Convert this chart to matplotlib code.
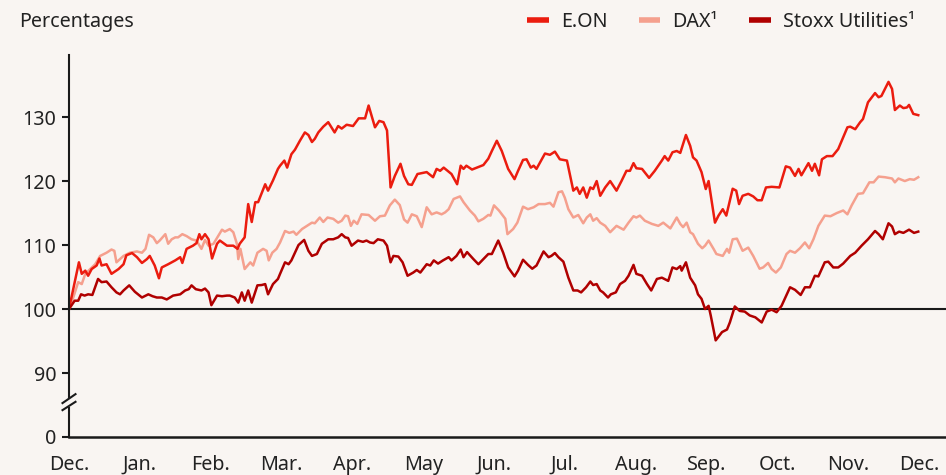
import matplotlib
matplotlib.use("Agg")
import matplotlib.pyplot as plt
from matplotlib.lines import Line2D
from matplotlib.transforms import blended_transform_factory

# x = months since start (0 = Dec. of previous year), values = index (start = 100)
eon_x = [0.00, 0.14, 0.18, 0.23, 0.27, 0.32, 0.39, 0.43, 0.46, 0.53, 0.60, 0.70, 0.77, 0.81, 0.89, 0.96,
         1.03, 1.10, 1.14, 1.21, 1.27, 1.31, 1.40, 1.50, 1.57, 1.60, 1.66, 1.75, 1.80, 1.84, 1.87, 1.92,
         1.97, 2.02, 2.09, 2.13, 2.23, 2.32, 2.38, 2.41, 2.48, 2.53, 2.58, 2.63, 2.67, 2.77, 2.81, 2.88,
         2.95, 2.98, 3.04, 3.08, 3.14, 3.19, 3.26, 3.33, 3.38, 3.43, 3.47, 3.52, 3.59, 3.66, 3.75, 3.80,
         3.85, 3.92, 4.01, 4.09, 4.18, 4.23, 4.32, 4.38, 4.44, 4.49, 4.54, 4.60, 4.68, 4.73, 4.79, 4.84,
         4.92, 5.05, 5.14, 5.19, 5.24, 5.29, 5.40, 5.48, 5.53, 5.57, 5.61, 5.69, 5.85, 5.92, 5.97, 6.04,
         6.11, 6.20, 6.29, 6.34, 6.41, 6.46, 6.52, 6.56, 6.60, 6.65, 6.72, 6.79, 6.86, 6.93, 7.03, 7.12,
         7.17, 7.21, 7.26, 7.31, 7.36, 7.40, 7.45, 7.50, 7.57, 7.64, 7.73, 7.80, 7.87, 7.92, 7.97, 8.01,
         8.09, 8.19, 8.27, 8.37, 8.41, 8.46, 8.52, 8.58, 8.63, 8.71, 8.77, 8.81, 8.86, 8.93, 8.99, 9.03,
         9.12, 9.17, 9.23, 9.28, 9.37, 9.42, 9.46, 9.51, 9.59, 9.66, 9.72, 9.78, 9.84, 9.92, 10.03, 10.12,
         10.18, 10.25, 10.30, 10.34, 10.44, 10.49, 10.53, 10.59, 10.63, 10.70, 10.78, 10.86, 10.99, 11.03,
         11.10, 11.17, 11.21, 11.28, 11.38, 11.43, 11.47, 11.57, 11.62, 11.66, 11.73, 11.78, 11.83, 11.86,
         11.92, 11.99]
eon_y = [100.0, 107.3, 105.5, 106.0, 105.2, 106.25, 106.8, 107.9, 106.8, 107.0, 105.5, 106.25, 107.0, 108.4, 108.75, 108.1,
         107.2, 107.8, 108.3, 106.8, 104.8, 106.5, 107.0, 107.6, 108.1, 107.2, 109.4, 109.9, 110.3, 111.7, 110.9, 111.7,
         110.9, 107.9, 110.2, 110.7, 109.9, 109.9, 109.4, 110.2, 111.2, 116.4, 113.6, 116.7, 116.7, 119.5, 118.5, 120.1,
         121.9, 122.4, 123.2, 122.1, 124.2, 124.9, 126.3, 127.6, 127.2, 126.1, 126.6, 127.6, 128.5, 129.2, 127.6, 128.6,
         128.2, 128.8, 128.6, 129.8, 129.8, 131.8, 128.4, 129.4, 129.2, 127.9, 119.0, 120.8, 122.7, 120.8, 119.5, 119.4,
         121.1, 121.4, 120.6, 121.9, 121.6, 122.1, 121.1, 119.5, 122.4, 121.9, 122.4, 121.8, 122.5, 123.5, 124.7, 126.3,
         124.7, 121.9, 120.3, 121.6, 123.3, 123.4, 122.1, 122.4, 121.9, 122.9, 124.3, 124.1, 124.6, 123.4, 123.2, 118.5,
         119.0, 118.0, 119.0, 117.4, 119.0, 118.75, 120.0, 117.7, 119.0, 120.0, 118.5, 120.0, 121.6, 121.6, 122.8, 122.0,
         121.9, 120.5, 121.6, 123.2, 123.9, 123.2, 124.5, 124.7, 124.4, 127.2, 125.5, 123.7, 123.2, 121.4, 118.75, 120.0,
         113.5, 114.6, 115.6, 114.6, 118.8, 118.5, 116.4, 117.7, 118.0, 117.6, 117.0, 117.0, 119.0, 119.1, 119.0, 122.3,
         122.1, 120.8, 121.9, 120.9, 122.8, 121.6, 122.7, 120.9, 123.4, 123.9, 123.9, 125.0, 128.4, 128.5,
         128.1, 129.2, 129.7, 132.3, 133.75, 133.1, 133.3, 135.5, 134.4, 131.1, 131.8, 131.4, 131.5, 131.9,
         130.5, 130.3]

dax_x = [0.00, 0.06, 0.13, 0.18, 0.23, 0.30, 0.37, 0.44, 0.53, 0.60, 0.64, 0.67, 0.77, 0.86, 0.96, 1.03,
         1.08, 1.13, 1.19, 1.24, 1.28, 1.36, 1.40, 1.45, 1.50, 1.54, 1.60, 1.66, 1.73, 1.80, 1.87, 1.92,
         1.97, 2.04, 2.11, 2.16, 2.20, 2.27, 2.32, 2.37, 2.39, 2.42, 2.48, 2.56, 2.60, 2.66, 2.74, 2.79,
         2.82, 2.87, 2.93, 2.98, 3.05, 3.11, 3.17, 3.21, 3.29, 3.36, 3.43, 3.47, 3.54, 3.59, 3.65, 3.73,
         3.80, 3.85, 3.90, 3.94, 3.98, 4.02, 4.07, 4.13, 4.23, 4.32, 4.39, 4.46, 4.53, 4.60, 4.67, 4.73,
         4.78, 4.84, 4.91, 4.98, 5.05, 5.12, 5.19, 5.26, 5.31, 5.36, 5.43, 5.52, 5.57, 5.66, 5.73, 5.78,
         5.85, 5.92, 5.95, 6.00, 6.07, 6.16, 6.19, 6.27, 6.33, 6.41, 6.48, 6.56, 6.63, 6.72, 6.79, 6.84,
         6.91, 6.96, 7.00, 7.05, 7.12, 7.19, 7.26, 7.31, 7.36, 7.40, 7.45, 7.50, 7.57, 7.64, 7.73, 7.83,
         7.90, 7.97, 8.01, 8.06, 8.13, 8.23, 8.32, 8.39, 8.49, 8.58, 8.63, 8.67, 8.72, 8.77, 8.81, 8.88,
         8.94, 8.98, 9.03, 9.10, 9.14, 9.23, 9.29, 9.32, 9.37, 9.43, 9.51, 9.59, 9.66, 9.75, 9.80, 9.87,
         9.92, 9.98, 10.05, 10.13, 10.18, 10.25, 10.32, 10.39, 10.45, 10.51, 10.58, 10.67, 10.75, 10.84,
         10.93, 10.99, 11.05, 11.14, 11.21, 11.30, 11.36, 11.43, 11.52, 11.62, 11.66, 11.71, 11.80, 11.87,
         11.93, 11.99]
dax_y = [100.0, 101.8, 104.2, 103.9, 105.5, 106.25, 107.0, 108.3, 108.8, 109.3, 109.1, 107.3, 108.3, 108.8, 109.0, 108.8,
         109.4, 111.6, 111.2, 110.3, 110.7, 111.7, 110.2, 110.9, 111.2, 111.2, 111.7, 111.4, 110.9, 110.7, 109.4, 110.8,
         109.9, 110.2, 111.5, 112.4, 112.1, 112.5, 112.0, 110.2, 107.8, 109.4, 106.25, 107.3, 106.8, 108.8, 109.4, 109.1,
         107.6, 108.8, 109.4, 110.4, 112.2, 111.9, 112.1, 111.6, 112.5, 113.0, 113.5, 113.4, 114.3, 113.6, 114.3, 114.1,
         113.5, 113.8, 114.6, 114.5, 113.0, 113.8, 113.3, 114.8, 114.7, 113.8, 114.5, 114.6, 116.2, 117.1, 116.25, 114.0,
         113.5, 114.8, 114.5, 112.8, 115.9, 114.8, 115.1, 114.8, 115.1, 115.6, 117.2, 117.6, 116.7, 115.4, 114.6, 113.7,
         114.1, 114.7, 114.6, 116.2, 115.4, 114.1, 111.7, 112.5, 113.5, 116.0, 115.6, 115.9, 116.4, 116.4, 116.6, 116.0,
         118.25, 118.4, 117.4, 115.6, 114.3, 114.7, 113.4, 114.3, 114.8, 113.8, 114.2, 113.5, 113.0, 112.0, 113.0, 112.4,
         113.5, 114.5, 114.3, 114.6, 113.8, 113.3, 113.0, 113.5, 112.6, 114.3, 113.3, 112.8, 113.5, 112.0, 111.7, 110.2,
         109.5, 109.9, 110.7, 109.4, 108.6, 108.3, 109.4, 108.8, 110.9, 111.0, 109.1, 109.6, 108.3, 106.3, 106.5, 107.2,
         106.25, 105.7, 106.5, 108.6, 109.1, 108.8, 109.5, 110.4, 109.5, 110.9, 113.0, 114.6, 114.5, 115.0,
         115.4, 114.8, 116.2, 118.0, 118.1, 119.8, 119.8, 120.7, 120.6, 120.4, 119.8, 120.4, 120.0, 120.3,
         120.2, 120.6]

stoxx_x = [0.00, 0.08, 0.13, 0.17, 0.22, 0.27, 0.33, 0.41, 0.46, 0.53, 0.60, 0.67, 0.72, 0.77, 0.85, 0.93,
           1.03, 1.12, 1.18, 1.24, 1.31, 1.38, 1.47, 1.57, 1.64, 1.69, 1.73, 1.79, 1.87, 1.92, 1.97, 2.01,
           2.09, 2.16, 2.23, 2.27, 2.34, 2.39, 2.44, 2.48, 2.53, 2.58, 2.66, 2.72, 2.77, 2.81, 2.88, 2.95,
           2.98, 3.05, 3.10, 3.14, 3.24, 3.32, 3.38, 3.43, 3.50, 3.57, 3.66, 3.73, 3.80, 3.85, 3.90, 3.94,
           3.99, 4.08, 4.15, 4.20, 4.25, 4.30, 4.36, 4.44, 4.49, 4.54, 4.58, 4.65, 4.71, 4.78, 4.86, 4.91,
           4.96, 5.05, 5.10, 5.15, 5.21, 5.28, 5.36, 5.40, 5.47, 5.53, 5.57, 5.62, 5.71, 5.78, 5.85, 5.92,
           5.97, 6.06, 6.13, 6.20, 6.29, 6.34, 6.41, 6.48, 6.54, 6.60, 6.70, 6.77, 6.81, 6.86, 6.91, 6.98,
           7.05, 7.12, 7.18, 7.23, 7.30, 7.36, 7.40, 7.45, 7.50, 7.54, 7.61, 7.65, 7.72, 7.78, 7.85, 7.90,
           7.97, 8.01, 8.09, 8.16, 8.22, 8.30, 8.37, 8.46, 8.52, 8.58, 8.63, 8.65, 8.71, 8.77, 8.84, 8.88,
           8.93, 8.98, 9.03, 9.06, 9.13, 9.22, 9.29, 9.33, 9.40, 9.47, 9.54, 9.61, 9.69, 9.78, 9.85, 9.92,
           9.99, 10.06, 10.18, 10.25, 10.33, 10.39, 10.46, 10.53, 10.58, 10.67, 10.72, 10.79, 10.86, 10.93,
           11.03, 11.10, 11.19, 11.28, 11.38, 11.43, 11.49, 11.57, 11.62, 11.66, 11.72, 11.78, 11.86, 11.93,
           11.99]
stoxx_y = [100.0, 101.3, 101.3, 102.3, 102.1, 102.3, 102.2, 104.7, 104.2, 104.3, 103.4, 102.6, 102.3, 102.9, 103.7, 102.7,
           101.8, 102.3, 102.0, 101.8, 101.8, 101.5, 102.1, 102.3, 102.9, 103.1, 103.7, 103.1, 102.9, 103.2, 102.6, 100.6,
           102.1, 102.0, 102.1, 102.1, 101.8, 101.0, 102.6, 101.3, 102.9, 101.0, 103.7, 103.75, 103.9, 102.3, 103.9, 104.7,
           105.5, 107.3, 107.0, 107.6, 110.0, 110.8, 109.1, 108.3, 108.6, 110.2, 110.9, 110.9, 111.2, 111.7, 111.2, 111.1,
           109.9, 110.7, 110.5, 110.7, 110.4, 110.3, 110.9, 110.7, 109.9, 107.3, 108.3, 108.2, 107.3, 105.2, 105.7, 106.1,
           105.7, 107.0, 106.8, 107.6, 107.1, 107.6, 108.1, 107.6, 108.3, 109.3, 108.1, 108.9, 107.8, 107.0, 107.8, 108.6,
           108.6, 110.7, 108.8, 106.5, 105.1, 106.0, 107.7, 106.9, 106.3, 106.8, 109.0, 108.1, 108.3, 108.75, 108.1, 107.4,
           104.9, 102.9, 102.9, 102.6, 103.4, 104.3, 103.75, 103.9, 102.9, 102.6, 101.8, 102.3, 102.6, 103.9, 104.4, 105.2,
           106.9, 105.5, 105.2, 103.9, 102.9, 104.7, 104.9, 104.4, 106.5, 106.25, 106.7, 106.0, 107.3, 104.9, 103.7, 102.3,
           101.6, 100.0, 100.5, 99.0, 95.1, 96.4, 96.8, 97.9, 100.4, 99.7, 99.6, 99.0, 98.7, 97.9, 99.6, 99.9,
           99.5, 100.5, 103.4, 103.0, 102.2, 103.4, 103.4, 105.2, 105.1, 107.3, 107.4, 106.5, 106.5, 107.1,
           108.3, 108.8, 109.9, 110.9, 112.2, 111.7, 110.9, 113.4, 112.9, 111.7, 112.1, 111.9, 112.4, 111.9,
           112.1]

month_labels = ["Dec.", "Jan.", "Feb.", "Mar.", "Apr.", "May", "Jun.", "Jul.",
                "Aug.", "Sep.", "Oct.", "Nov.", "Dec."]
ytick_vals = [80, 90, 100, 110, 120, 130]   # 80 stands in for 0 below the axis break
ytick_labels = ["0", "90", "100", "110", "120", "130"]

BG = "#f9f5f2"
TXT = "#222222"
C_EON = "#eb1c0f"
C_DAX = "#f5a08e"
C_STOXX = "#b00000"
FS = 14.2

plt.rcParams["font.family"] = ["Noto Sans", "DejaVu Sans"]

fig = plt.figure(figsize=(9.46, 4.75), dpi=100, facecolor=BG)
ax = fig.add_axes([69 / 946, 38 / 475, 877 / 946, 382 / 475], facecolor=BG)

ax.axhline(100, color="#1a1a1a", lw=1.5, zorder=2)
ax.plot(dax_x, dax_y, color=C_DAX, lw=1.8, zorder=3, solid_joinstyle="round")
ax.plot(eon_x, eon_y, color=C_EON, lw=1.8, zorder=4, solid_joinstyle="round")
ax.plot(stoxx_x, stoxx_y, color=C_STOXX, lw=1.8, zorder=5, solid_joinstyle="round")

ax.set_xlim(0, 877 / 70.83)
ax.set_ylim(80, 139.7)

ax.set_xticks(range(len(month_labels)))
ax.set_xticklabels(month_labels)
ax.set_yticks(ytick_vals)
ax.set_yticklabels(ytick_labels)
ax.tick_params(axis="x", length=0, pad=13, labelsize=FS, labelcolor=TXT)
ax.tick_params(axis="y", length=5, width=1.5, color="#1a1a1a", pad=4, labelsize=FS, labelcolor=TXT)

for s in ["top", "right", "left"]:
    ax.spines[s].set_visible(False)
ax.spines["bottom"].set_linewidth(1.8)
ax.spines["bottom"].set_color("#1a1a1a")

# left spine with a break between 0 and 90
tr = blended_transform_factory(ax.transAxes, ax.transData)
ax.plot([0, 0], [80, 84.6], color="#1a1a1a", lw=1.5, transform=tr, clip_on=False, zorder=6)
ax.plot([0, 0], [86.1, 139.7], color="#1a1a1a", lw=1.5, transform=tr, clip_on=False, zorder=6)
dx = 6.5 / 877
ax.plot([-dx, dx], [84.2, 85.5], color="#1a1a1a", lw=1.5, transform=tr, clip_on=False, zorder=6)
ax.plot([-dx, dx], [85.3, 86.7], color="#1a1a1a", lw=1.5, transform=tr, clip_on=False, zorder=6)

fig.text(19 / 946, 1 - 22 / 475, "Percentages", fontsize=FS, color=TXT, va="center", ha="left")

handles = [Line2D([], [], color=C_EON, lw=4, solid_capstyle="butt"),
           Line2D([], [], color=C_DAX, lw=4, solid_capstyle="butt"),
           Line2D([], [], color=C_STOXX, lw=4, solid_capstyle="butt")]
fig.legend(handles, ["E.ON", "DAX¹", "Stoxx Utilities¹"], ncol=3, loc="center right",
           bbox_to_anchor=(0.967, 1 - 22 / 475), frameon=False, fontsize=FS,
           handlelength=1.1, handletextpad=0.6, columnspacing=1.6, labelcolor=TXT,
           borderpad=0, borderaxespad=0)

fig.savefig("out.png", dpi=100, facecolor=BG)
